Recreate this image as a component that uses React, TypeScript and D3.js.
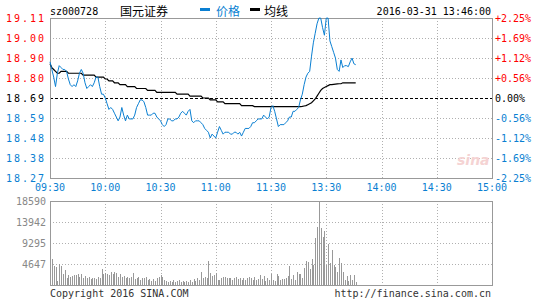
import React from "react";
import * as d3 from "d3";

const stockCode = "sz000728";
const stockName = "国元证券";
const dateTime = "2016-03-31 13:46:00";
const legendPrice = "价格";
const legendAvg = "均线";
const preClose = 18.69;

const priceTicks = ["19.11", "19.00", "18.90", "18.80", "18.69", "18.59", "18.48", "18.38", "18.27"];
const pctTicks = ["+2.25%", "+1.69%", "+1.12%", "+0.56%", "0.00%", "-0.56%", "-1.12%", "-1.69%", "-2.25%"];
const timeTicks = ["09:30", "10:00", "10:30", "11:00", "11:30", "13:30", "14:00", "14:30", "15:00"];
const timeTickIdx = [0, 30, 60, 90, 120, 150, 180, 210, 240];
const volTicks = [18590, 13942, 9295, 4647];

const priceData = [
  18.88, 18.84, 18.80, 18.75, 18.82, 18.86, 18.85, 18.84, 18.84, 18.83,
  18.79, 18.76, 18.75, 18.76, 18.75, 18.78, 18.82, 18.84, 18.82, 18.77,
  18.74, 18.75, 18.76, 18.75, 18.77, 18.80, 18.80, 18.75, 18.71, 18.71,
  18.69, 18.66, 18.63, 18.64, 18.63, 18.61, 18.59, 18.57, 18.59, 18.64,
  18.60, 18.57, 18.60, 18.58, 18.58, 18.58, 18.60, 18.64, 18.66, 18.68,
  18.68, 18.67, 18.64, 18.60, 18.60, 18.60, 18.61, 18.61, 18.59, 18.58,
  18.57, 18.55, 18.54, 18.55, 18.58, 18.58, 18.57, 18.57, 18.58, 18.58,
  18.59, 18.61, 18.62, 18.61, 18.60, 18.62, 18.63, 18.57, 18.56, 18.57,
  18.57, 18.57, 18.56, 18.55, 18.53, 18.52, 18.51, 18.48, 18.50, 18.49,
  18.48, 18.51, 18.54, 18.52, 18.50, 18.51, 18.51, 18.51, 18.50, 18.50,
  18.51, 18.51, 18.50, 18.51, 18.49, 18.51, 18.53, 18.53, 18.53, 18.54,
  18.56, 18.56, 18.57, 18.58, 18.58, 18.58, 18.60, 18.59, 18.58, 18.59,
  18.64, 18.65, 18.62, 18.58, 18.54, 18.55, 18.55, 18.55, 18.56, 18.57,
  18.59, 18.59, 18.62, 18.62, 18.63, 18.64, 18.68, 18.71, 18.76, 18.80,
  18.82, 18.83, 18.91, 18.98, 19.03, 19.08, 19.11, 19.11, 19.06, 19.02,
  19.11, 19.11, 18.99, 18.96, 18.93, 18.90, 18.84, 18.83, 18.89, 18.85,
  18.86, 18.86, 18.855, 18.88, 18.90, 18.87, 18.865,
];

const avgData = [
  18.87, 18.85, 18.84, 18.83, 18.82, 18.82, 18.83, 18.83, 18.83, 18.83,
  18.82, 18.82, 18.82, 18.82, 18.82, 18.82, 18.82, 18.82, 18.81, 18.81,
  18.81, 18.81, 18.81, 18.81, 18.81, 18.80, 18.80, 18.80, 18.80, 18.80,
  18.79, 18.79, 18.78, 18.78, 18.78, 18.77, 18.77, 18.77, 18.76, 18.76,
  18.76, 18.76, 18.75, 18.75, 18.75, 18.75, 18.75, 18.74, 18.74, 18.74,
  18.74, 18.74, 18.74, 18.73, 18.73, 18.73, 18.73, 18.73, 18.72, 18.72,
  18.72, 18.72, 18.72, 18.72, 18.72, 18.72, 18.72, 18.72, 18.72, 18.71,
  18.71, 18.71, 18.71, 18.71, 18.71, 18.71, 18.70, 18.70, 18.70, 18.70,
  18.70, 18.70, 18.70, 18.69, 18.69, 18.69, 18.69, 18.68, 18.68, 18.68,
  18.68, 18.67, 18.67, 18.67, 18.67, 18.66, 18.66, 18.66, 18.66, 18.66,
  18.66, 18.66, 18.66, 18.66, 18.65, 18.65, 18.65, 18.65, 18.65, 18.65,
  18.65, 18.645, 18.645, 18.645, 18.645, 18.645, 18.645, 18.645, 18.645, 18.645,
  18.645, 18.645, 18.645, 18.645, 18.645, 18.645, 18.645, 18.645, 18.645, 18.645,
  18.645, 18.645, 18.645, 18.645, 18.645, 18.645, 18.645, 18.646, 18.648, 18.65,
  18.655, 18.66, 18.665, 18.675, 18.685, 18.70, 18.715, 18.73, 18.74, 18.745,
  18.75, 18.755, 18.76, 18.76, 18.762, 18.763, 18.764, 18.765, 18.765, 18.77,
  18.77, 18.77, 18.77, 18.77, 18.77, 18.77, 18.77,
];

const volumeData = [
  6040, 5680, 4200, 4050, 880, 4570, 4200, 2360, 3300, 1620,
  2210, 1840, 2060, 2210, 2210, 2360, 1840, 2360, 1620, 2060,
  1470, 1840, 1330, 1620, 1470, 1330, 1840, 1620, 3540, 2360,
  2730, 2360, 2210, 2800, 2360, 2800, 2580, 1840, 2360, 1840,
  2060, 1470, 1840, 1470, 1840, 2580, 1330, 1620, 1840, 1100,
  1620, 1470, 1840, 1100, 1330, 880, 1330, 880, 1620, 1840,
  2210, 1840, 1100, 880, 590, 880, 590, 1100, 590, 880,
  1100, 740, 960, 590, 880, 740, 1100, 740, 1330, 880,
  1470, 1100, 2800, 1470, 1840, 1470, 5300, 2580, 2060, 2210,
  2580, 1100, 1100, 1470, 1840, 1840, 1620, 1470, 1620, 1100,
  1470, 1840, 1330, 1620, 1100, 1470, 1100, 1470, 1840, 1470,
  1100, 1840, 1100, 1330, 2210, 1330, 2060, 880, 1470, 1100,
  2400, 1100, 900, 2400, 1900, 1200, 1300, 1300, 1500, 2100,
  4100, 1300, 2200, 1000, 2900, 2400, 2400, 1600, 3700, 5300,
  5000, 3500, 5700, 4400, 10300, 12900, 18590, 12700, 10700, 12000,
  4400, 9000, 4800, 7700, 4400, 4000, 2900, 6000, 4800, 2800,
  1100, 2100, 900, 2200, 1100, 2200, 600,
];

const W = 545;
const H = 300;
const L = 50;
const R = 492;
const PT = 18;
const PB = 178;
const VT = 201;
const VB = 285;

const MONO = "'DejaVu Sans Mono', 'Liberation Mono', monospace";
const CJK = "'Noto Sans CJK SC', sans-serif";
const RED = "#ff0000";
const BLUE = "#0a7fd2";
const GRID = "#b0b0b0";
const BORDER = "#999999";

export default function App() {
  const x = d3.scaleLinear().domain([0, 240]).range([L, R]);
  const y = d3
    .scaleLinear()
    .domain([preClose * (1 - 0.0225), preClose * (1 + 0.0225)])
    .range([PB, PT]);
  const yv = d3.scaleLinear().domain([0, volTicks[0]]).range([VB, VT]);

  const line = d3
    .line<number>()
    .x((_, i) => x(i))
    .y((d) => y(d));

  const priceGridY = priceTicks.map((_, i) => PT + ((PB - PT) * i) / (priceTicks.length - 1));

  const labelColor = (i: number) => (i < 4 ? RED : i === 4 ? "#000" : BLUE);

  return (
    <svg
      width={W}
      height={H}
      style={{ position: "absolute", left: 0, top: 0, background: "#fff" }}
    >
      {/* header */}
      <text x={50} y={15} fontFamily={MONO} fontSize={10} fill="#000">
        {stockCode}
      </text>
      <text x={120} y={15.5} fontFamily={CJK} fontSize={12} fill="#000">
        {stockName}
      </text>
      <rect x={200} y={8} width={10} height={3} fill={BLUE} />
      <text x={216} y={15.5} fontFamily={CJK} fontSize={12} fill={BLUE}>
        {legendPrice}
      </text>
      <rect x={250} y={8} width={10} height={3} fill="#000" />
      <text x={264} y={15.5} fontFamily={CJK} fontSize={12} fill="#000">
        {legendAvg}
      </text>
      <text x={491} y={15} textAnchor="end" fontFamily={MONO} fontSize={10} fill="#000">
        {dateTime}
      </text>

      {/* price grid */}
      <g shapeRendering="crispEdges">
        {priceGridY.slice(1, -1).map((gy, i) =>
          i === 3 ? null : (
            <line key={"ph" + i} x1={L} x2={R} y1={gy + 0.5} y2={gy + 0.5} stroke={GRID} strokeDasharray="1,2" />
          )
        )}
        {timeTickIdx.slice(1, -1).map((t, i) => (
          <line key={"pv" + i} x1={Math.round(x(t)) + 0.5} x2={Math.round(x(t)) + 0.5} y1={PT} y2={PB} stroke={GRID} strokeDasharray="1,2" />
        ))}
        <line x1={L} x2={R} y1={y(preClose) + 0.5} y2={y(preClose) + 0.5} stroke="#000" strokeDasharray="3,2" />
        <rect x={L + 0.5} y={PT + 0.5} width={R - L} height={PB - PT} fill="none" stroke={BORDER} />
      </g>

      {/* price labels */}
      {priceTicks.map((t, i) => (
        <text
          key={"pl" + i}
          x={46}
          y={priceGridY[i] + 3.5}
          textAnchor="end"
          fontFamily={MONO}
          fontSize={10}
          letterSpacing={2}
          fill={labelColor(i)}
        >
          {t}
        </text>
      ))}
      {pctTicks.map((t, i) => (
        <text key={"pr" + i} x={495} y={priceGridY[i] + 3.5} fontFamily={MONO} fontSize={10} fill={labelColor(i)}>
          {t}
        </text>
      ))}
      {timeTicks.map((t, i) => (
        <text key={"tl" + i} x={x(timeTickIdx[i])} y={190.5} textAnchor="middle" fontFamily={MONO} fontSize={10} fill={BLUE}>
          {t}
        </text>
      ))}

      {/* watermark */}
      <text x={457} y={165} fontFamily="'DejaVu Sans', sans-serif" fontStyle="italic" fontWeight="bold" fontSize={14} fill="#f5d3d3">
        sina
      </text>

      {/* lines */}
      <path d={line(avgData) || ""} fill="none" stroke="#000" strokeWidth={1.2} />
      <path d={line(priceData) || ""} fill="none" stroke={BLUE} strokeWidth={1} />

      {/* volume grid */}
      <g shapeRendering="crispEdges">
        {volTicks.slice(1).map((v, i) => (
          <line key={"vh" + i} x1={L} x2={R} y1={Math.round(yv(v)) + 0.5} y2={Math.round(yv(v)) + 0.5} stroke={GRID} strokeDasharray="1,2" />
        ))}
        {timeTickIdx.slice(1, -1).map((t, i) => (
          <line key={"vv" + i} x1={Math.round(x(t)) + 0.5} x2={Math.round(x(t)) + 0.5} y1={VT} y2={VB} stroke={GRID} strokeDasharray="1,2" />
        ))}
        {volumeData.map((v, i) => (
          <line key={"vb" + i} x1={Math.round(x(i)) + 0.5} x2={Math.round(x(i)) + 0.5} y1={VB} y2={yv(v)} stroke="#999" />
        ))}
        <rect x={L + 0.5} y={VT + 0.5} width={R - L} height={VB - VT} fill="none" stroke={BORDER} />
      </g>
      {volTicks.map((v, i) => (
        <text key={"vl" + i} x={46} y={Math.round(yv(v)) + 3.5} textAnchor="end" fontFamily={MONO} fontSize={10} fill="#888">
          {v}
        </text>
      ))}

      {/* footer */}
      <text x={50} y={297} fontFamily={MONO} fontSize={10} fill="#333">
        Copyright 2016 SINA.COM
      </text>
      <text x={491} y={297} textAnchor="end" fontFamily={MONO} fontSize={10} fill="#333">
        http://finance.sina.com.cn
      </text>
    </svg>
  );
}
